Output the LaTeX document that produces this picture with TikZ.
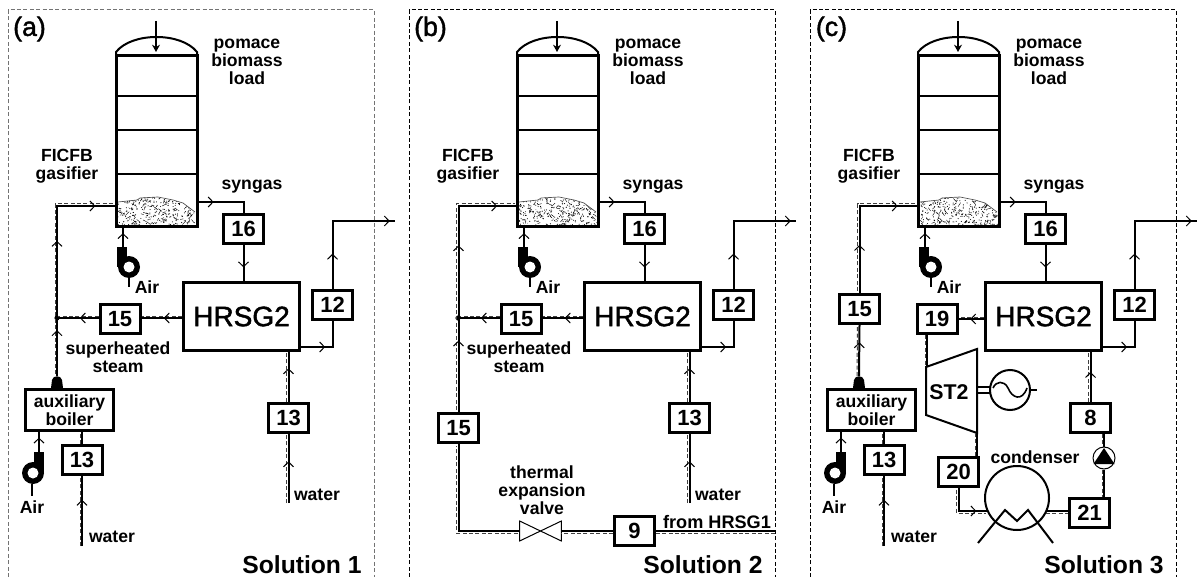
\documentclass[tikz,border=0pt]{standalone}
\usepackage{fontspec}
\setmainfont{Liberation Sans}
\newfontfamily\semib[FakeBold=1.6]{Liberation Sans}
\usetikzlibrary{arrows.meta,decorations.markings,calc}
\definecolor{dashcol}{gray}{0.25}
\tikzset{
  x=0.75pt,y=-0.75pt,
  chev/.tip={Straight Barb[length=3.6pt,width=7.5pt,line width=0.75pt]},
  pipe/.style={line width=1.5pt,line join=miter},
  flow/.style={postaction={decorate,decoration={markings,mark=at position #1 with {\arrow{chev}}}}},
  steam/.style={postaction={draw=dashcol,line width=0.75pt,dash pattern=on 3pt off 1.8pt,transform canvas={shift={(#1)}}}},
  numbox/.style={draw,line width=2.25pt,fill=white,minimum width=30pt,minimum height=21.75pt,inner sep=0pt,font=\bfseries\fontsize{16.5}{18}\selectfont},
  bigbox/.style={draw,line width=2.25pt,fill=white,inner sep=0pt},
  lbl/.style={inner sep=0pt,align=center,font=\bfseries\fontsize{13.2}{13.6}\selectfont},
  tag/.style={inner sep=0pt,font=\semib\fontsize{20}{22}\selectfont},
  soln/.style={inner sep=0pt,font=\bfseries\fontsize{18.5}{20}\selectfont},
  heavy/.style={line width=1.5pt},
  frame/.style={line width=0.75pt,dash pattern=on 3pt off 1.8pt},
}
\newcommand{\fanL}[2]{%
  \fill (#1-12,#2-20) rectangle (#1-2,#2);
  \fill (#1,#2) circle (11);
  \fill[white] (#1,#2) circle (5.5);}
\newcommand{\fanR}[2]{%
  \fill (#1+1,#2-21) rectangle (#1+11,#2);
  \fill (#1,#2) circle (11);
  \fill[white] (#1,#2) circle (5.5);}
\begin{document}
\begin{tikzpicture}
\useasboundingbox (0,0) rectangle (1198,577);
\draw[frame,black!55] (8,577) -- (8,10) -- (374,10) -- (374,577);
\draw[frame,black] (409,577) -- (409,10) -- (775,10) -- (775,577);
\draw[frame,black] (810,577) -- (810,10) -- (1176,10) -- (1176,577);

\pgfmathsetseed{4217}
\foreach \p/\dx/\tagtxt/\soltxt in {a/0/{(a)}/Solution 1,b/401/{(b)}/Solution 2,c/802/{(c)}/Solution 3}{
\begin{scope}[shift={(\dx,0)}]
  \node[tag] (\p tag) at (29.5,29) {\tagtxt};
  \node[soln] (\p sol) at (302,565) {\soltxt};
  % gasifier
  \node[draw,line width=2.25pt,minimum width=60.75pt,minimum height=128.25pt,inner sep=0pt] (\p G) at (156.5,141.5) {};
  \draw[heavy] (116,56) -- (116,52) .. controls (124,42) and (140,37) .. (156.5,37) .. controls (173,37) and (189,42) .. (197,52) -- (197,56);
  \draw[heavy] (116,96) -- (197,96) (116,130) -- (197,130) (116,174) -- (197,174);
  \coordinate (\p loadA) at (156,21);
  \coordinate (\p loadB) at (156,52);
  \draw[line width=1.5pt,-{Stealth[length=5.5pt,width=6pt]}] (\p loadA) -- (\p loadB);
  % bed
  \begin{scope}
    \clip (118,202) -- (137,200) -- (140,198) -- (158,197) -- (173,200) -- (183,203) -- (195,212) -- (196,226) -- (117,226) -- cycle;
    \foreach \i in {1,...,260}{
      \fill (117+rnd*80,196+rnd*31) circle (0.55);
    }
    \foreach \i in {1,...,90}{
      \draw[line width=0.3pt] (117+rnd*80,196+rnd*31) -- ++(-4+8*rnd,-4+8*rnd);
    }
  \end{scope}
  \draw[line width=0.5pt,black!70] (118,202) -- (137,200) -- (140,198) -- (158,197) -- (173,200) -- (183,203) -- (195,212);
  % texts
  \node[lbl] (\p pom) at (247,62) {pomace\\biomass\\load};
  \node[lbl] (\p fic) at (67,166) {FICFB\\gasifier};
  \node[lbl] (\p syn) at (252,187) {syngas};
  % fan on gasifier
  \fanL{129}{267}
  \draw[pipe] (129,278) -- (129,287);
  \coordinate (\p fanTop) at (123,247);
  \draw[pipe,flow=0.75] (\p fanTop) -- (\p fanTop |- \p G.south);
  \node[lbl] (\p air) at (147,287) {Air};
  % syngas line
  \node[numbox] (\p16) at (243.5,229) {16};
  \node[bigbox,minimum width=87pt,minimum height=51pt,font=\semib\fontsize{21}{23}\selectfont] (\p H) at (241.5,316.5) {HRSG2};
  \coordinate (\p synOut) at (197,202);
  \draw[pipe,flow=0.29] (\p synOut) -- (\p16.north |- \p synOut) -- (\p16.north);
  \draw[pipe,flow=0.62] (\p16.south) -- (\p16.south |- \p H.north);
  % 12 line
  \node[numbox] (\p12) at (332.5,305) {12};
  \coordinate (\p hOut) at (301,347);
  \coordinate (\p end) at (395,221);
  \draw[pipe,flow=0.42] (\p hOut) -- (\p12.south |- \p hOut) -- (\p12.south);
  \draw[pipe,flow=0.27,flow=0.96] (\p12.north) -- (\p12.north |- \p end) -- (\p end);
  \coordinate (\p gIn) at (116,206);
\end{scope}
}

% ---- panels a and b ----
\foreach \p/\dx in {a/0,b/401}{
\begin{scope}[shift={(\dx,0)}]
  \node[numbox] (\p15) at (120,319) {15};
  \node[lbl] (\p sup) at (118,357) {superheated\\steam};
  \coordinate (\p J) at (57,318);
  \fill (\p J) circle (2.6);
  \node[numbox] (\p W13) at (288.5,417.5) {13};
  \coordinate (\p wat) at (288.5,503);
  \node[lbl] (\p watl) at (317,495) {water};
  \draw[pipe,steam={-2,0},flow=0.6] (\p wat) -- (\p W13.south);
  \draw[pipe,steam={-2,0},flow=0.67] (\p W13.north) -- (\p W13.north |- \p H.south);
  \draw[pipe,steam={0,-2},flow=0.45] (\p H.west |- \p J) -- (\p15.east |- \p J);
  \draw[pipe,steam={0,-2},flow=0.45] (\p15.west |- \p J) -- (\p J);
\end{scope}
}
\foreach \p/\dx in {a/0,c/802}{
\begin{scope}[shift={(\dx,0)}]
  \node[bigbox,minimum width=66pt,minimum height=30.75pt,lbl,draw] (\p B) at (69.5,410) {auxiliary\\boiler};
  \fill (51,388) -- (52,380) .. controls (53,375) and (61,375) .. (62,380) -- (63,388) -- cycle;
  \coordinate (\p bTop) at (57,376);
  \node[numbox] (\p A13) at (82,460) {13};
  \coordinate (\p awat) at (82,546);
  \node[lbl] (\p awatl) at (112,537) {water};
  \draw[pipe,steam={-2,0},flow=0.66] (\p awat) -- (\p A13.south);
  \draw[pipe,steam={-2,0}] (\p A13.north) -- (\p A13.north |- \p B.south);
  \fanR{33}{473}
  \coordinate (\p fanOut) at (39,452);
  \draw[pipe,flow=0.72] (\p fanOut) -- (\p fanOut |- \p B.south);
  \draw[pipe] (32,484) -- (32,496);
  \node[lbl] (\p airB) at (32,507) {Air};
\end{scope}
}

% panel a: main steam riser
\draw[pipe,steam={-2,-2},flow=0.2,flow=0.59,flow=0.91] (abTop) -- (abTop |- agIn) -- (agIn);

% panel b: from HRSG1
\node[numbox] (b15v) at (458.5,428) {15};
\node[numbox] (b9) at (634.5,531) {9};
\node[inner sep=0pt,minimum width=30.75pt,minimum height=14.5pt] (bV) at (540.5,531) {};
\draw[line width=0.75pt] (bV.north west) -- (bV.south east) -- (bV.north east) -- (bV.south west) -- cycle;
\coordinate (bin) at (775,531);
\draw[pipe,steam={0,2}] (bin) -- (b9.east);
\draw[pipe,steam={0,2}] (b9.west) -- (bV.east);
\draw[pipe,steam={-2,2}] (bV.west) -- (b15v.south |- bV.west) -- (b15v.south);
\draw[pipe,steam={-2,-2},flow=0.27,flow=0.63,flow=0.925] (b15v.north) -- (b15v.north |- bgIn) -- (bgIn);
\node[lbl] (bvl) at (542,490) {thermal\\expansion\\valve};
\node[lbl,font=\bfseries\fontsize{13.6}{15}\selectfont] (bfrom) at (717,522) {from HRSG1};

% panel c
\node[numbox] (c15) at (859.5,309) {15};
\draw[pipe,steam={-2,0},flow=0.66] (cbTop) -- (c15.south);
\draw[pipe,steam={-2,-2},flow=0.33,flow=0.86] (c15.north) -- (c15.north |- cgIn) -- (cgIn);
\node[numbox] (c19) at (937,319) {19};
\draw[pipe,steam={0,-2},flow=0.54] (cH.west |- c19.east) -- (c19.east);
% turbine
\draw[line width=1.5pt] (926,367) -- (977,349) -- (977,433) -- (926,415) -- cycle;
\node[inner sep=0pt,font=\bfseries\fontsize{16}{18}\selectfont] (cST) at (949,392) {ST2};
\coordinate (cTin) at (927,367);
\coordinate (cTout) at (977,433);
\draw[pipe,steam={-2,0}] (c19.south -| cTin) -- (cTin);
\node[numbox] (c20) at (958.5,471.5) {20};
\draw[pipe,steam={-2,0}] (cTout) -- (cTout |- c20.north);
% generator
\node[draw,circle,line width=1.5pt,minimum size=30pt,inner sep=0pt] (cGen) at (1010,390) {};
\draw[pipe] (977,387) -- (990,387) (977,393) -- (990,393);
\draw[pipe] (cGen.east) -- ++(6,0);
\draw[line width=1.2pt] (993,388) .. controls (996,381) and (1004,380) .. (1008,388) .. controls (1012,398) and (1022,402) .. (1027,388);
% condenser
\node[lbl] (cCl) at (1035,457) {condenser};
\node[draw,circle,line width=1.5pt,minimum size=48pt,inner sep=0pt] (cC) at (1017,498) {};
\draw[line width=1.5pt] (978,543) -- (1005,510) -- (1017,521) -- (1028,510) -- (1053,543);
\coordinate (cCin) at (988,511);
\coordinate (cCout) at (1046,511);
\draw[pipe,steam={-2,2},flow=0.78] (c20.south) -- (c20.south |- cCin) -- (cCin);
\node[numbox] (c21) at (1089.5,513) {21};
\draw[pipe,steam={0,2}] (cCout) -- (c21.west |- cCout);
% pump
\node[draw,circle,line width=0.75pt,minimum size=16.5pt,inner sep=0pt,fill=white] (cP) at (1104,458) {};
\fill (1104,448) -- (1114.5,464) -- (1093.5,464) -- cycle;
\node[numbox] (c8) at (1090.5,418) {8};
\draw[pipe,steam={-2,0}] (cP.south) -- (cP.south |- c21.north);
\draw[pipe,steam={-2,0}] (cP.north |- c8.south) -- (cP.north);
\draw[pipe,steam={-2,0},flow=0.6] (c8.north) -- (c8.north |- cH.south);
\end{tikzpicture}
\end{document}
